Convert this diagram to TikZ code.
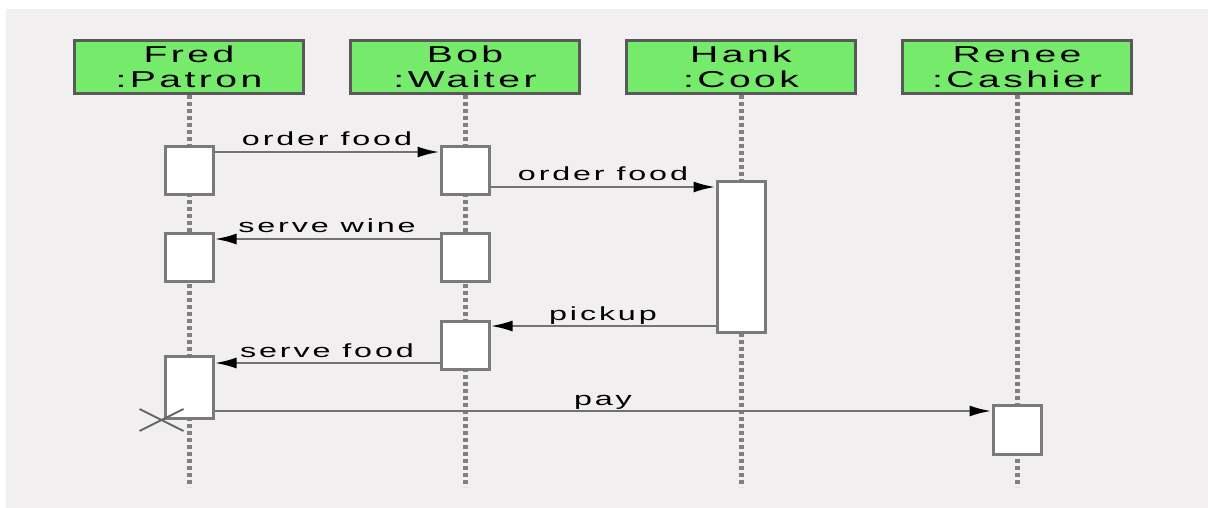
\documentclass[tikz,border=0pt]{standalone}
\usepackage{fontspec}
\setmainfont[FakeStretch=1.7, LetterSpace=15]{Liberation Sans}
\usetikzlibrary{arrows.meta}
\definecolor{bgpink}{HTML}{F2EFF0}
\definecolor{actgreen}{HTML}{76EA6A}
\tikzset{
  actor/.style={draw=black!65, line width=3pt, fill=actgreen, minimum width=229pt, minimum height=53pt,
    align=center, inner sep=0pt, font=\fontsize{23}{24.5}\selectfont},
  act/.style={draw=black!52, line width=3pt, fill=white, minimum width=48pt, inner sep=0pt},
  lifeline/.style={draw=black!50, line width=5pt, dash pattern=on 4pt off 3pt},
  msg/.style={draw=black!55, line width=2.5pt, -{Latex[length=22pt,width=11pt,black]}},
  lbl/.style={midway, anchor=base, yshift=6pt, inner sep=0pt, font=\fontsize{19}{19}\selectfont}
}
\begin{document}
\begin{tikzpicture}[x=1pt, y=-1pt]
\useasboundingbox (0,0) rectangle (1208,508);
\fill[bgpink] (6,9) rectangle (1208,508);
\coordinate (bottom) at (0,487);
\foreach \n/\name/\role [count=\i from 0] in {fred/Fred/Patron, bob/Bob/Waiter, hank/Hank/Cook, renee/Renee/Cashier} {
  \node[actor] (\n) at (189+276*\i, 67) {\name\\:\role};
  \draw[lifeline] (\n.south) -- (\n |- bottom);
}
\node[act, minimum height=48pt] (fa1) at (189,170.5) {};
\node[act, minimum height=48pt] (ba1) at (465,170.5) {};
\node[act, minimum height=151pt] (hk) at (741,257) {};
\node[act, minimum height=48pt] (fa2) at (189,257.5) {};
\node[act, minimum height=48pt] (ba2) at (465,257.5) {};
\node[act, minimum height=48pt] (ba3) at (465,345.5) {};
\node[act, minimum height=62pt] (fa3) at (189,387.5) {};
\node[act, minimum height=49pt] (rn) at (1017,430) {};
\draw[msg] ([yshift=-7pt]fa1.north east) -- ([yshift=-7pt]ba1.north west) node[lbl] {order food};
\draw[msg] ([yshift=-42pt]ba1.north east) -- ([yshift=-7pt]hk.north west) node[lbl] {order food};
\draw[msg] ([yshift=-7pt]ba2.north west) -- ([yshift=-7pt]fa2.north east) node[lbl] {serve wine};
\draw[msg] ([yshift=8pt]hk.south west) -- ([yshift=-6pt]ba3.north east) node[lbl] {pickup};
\draw[msg] ([yshift=8pt]ba3.south west) -- ([yshift=-8pt]fa3.north east) node[lbl] {serve food};
\draw[msg] ([yshift=9pt]fa3.south east) -- ([yshift=-7pt]rn.north west) node[lbl] {pay};
\draw[black!60, line width=2pt] ([shift={(-24,-11)}]fa3.south west) -- ([shift={(20,11)}]fa3.south west)
  ([shift={(-24,11)}]fa3.south west) -- ([shift={(20,-11)}]fa3.south west);
\end{tikzpicture}
\end{document}
